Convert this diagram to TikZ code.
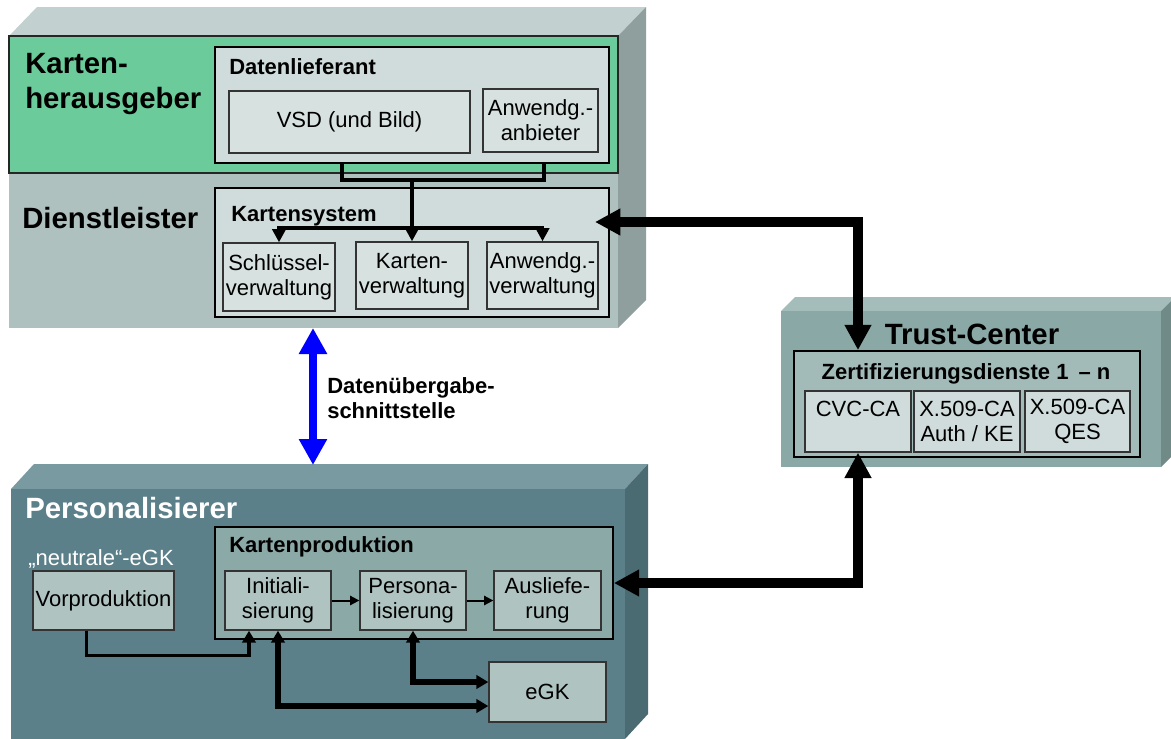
\documentclass[tikz,border=0pt]{standalone}
\usepackage{fontspec}
\setmainfont{Liberation Sans}
\usetikzlibrary{arrows.meta,calc}
\definecolor{topfront}{HTML}{AFC1BF}
\definecolor{toptop}{HTML}{C2D1CF}
\definecolor{topside}{HTML}{8F9F9D}
\definecolor{kgreen}{HTML}{6CCB9B}
\definecolor{lightbox}{HTML}{D0DCDB}
\definecolor{lightsub}{HTML}{D7E1E0}
\definecolor{tcfront}{HTML}{8AA8A6}
\definecolor{tctop}{HTML}{A4BCBA}
\definecolor{tcside}{HTML}{708A88}
\definecolor{tcin}{HTML}{A2BBB9}
\definecolor{pfront}{HTML}{5B808A}
\definecolor{ptop}{HTML}{7A9AA2}
\definecolor{pside}{HTML}{4A6B72}
\definecolor{kpfill}{HTML}{8BA9A7}
\definecolor{kpsub}{HTML}{AFC3C1}
\newcommand\fsnorm{\fontsize{16.5}{18.75}\selectfont}
\newcommand\fsbig{\fontsize{22}{26}\selectfont}
\begin{document}
\begin{tikzpicture}[x=0.75pt,y=-0.75pt,
  rect/.style args={#1/#2/#3/#4}{at={({(#1+#3)/2},{(#2+#4)/2})},
     minimum width={(#3-#1)*0.75pt}, minimum height={(#4-#2)*0.75pt}},
  box/.style={draw=black, line width=1.3pt, inner sep=0pt},
  subbox/.style={draw=black!80, line width=1pt, inner sep=0pt, align=center, font=\fsnorm},
  head/.style={anchor=base west, font=\bfseries\fsnorm, inner sep=0pt},
  bighead/.style={anchor=base west, font=\bfseries\fsbig, inner sep=0pt, align=left},
  tconn/.style={line width=2.6pt, -{Triangle[length=10pt,width=10pt]}},
  tconnplain/.style={line width=2.6pt},
  small/.style={line width=1.5pt, -{Triangle[length=7pt,width=7pt]}},
  medium/.style={line width=4.5pt, {Triangle[length=9pt,width=10pt]}-{Triangle[length=9pt,width=10pt]}},
  big/.style={line width=7.5pt, {Triangle[length=19pt,width=19pt]}-{Triangle[length=19pt,width=19pt]}},
  bluearrow/.style={line width=6pt, blue, {Triangle[length=19.5pt,width=20pt]}-{Triangle[length=19.5pt,width=20pt]}}
]
\useasboundingbox (0,0) rectangle (1171,739);
\clip (0,0) rectangle (1171,739);

% ---------- top block (Dienstleister) ----------
\fill[toptop] (9,36) -- (37,7) -- (646,7) -- (618,36) -- cycle;
\fill[topside] (618,36) -- (646,7) -- (646,300) -- (618,328) -- cycle;
\fill[topfront] (9,36) rectangle (618,328);
\draw[fill=kgreen, draw=black!85, line width=1.3pt] (9,36) rectangle (618,173);

\node[bighead] (kh) at (25,108) {Karten-\\herausgeber};
\node[bighead] (dlst) at (22,228) {Dienstleister};

\node[box, fill=lightbox, rect=215/47/609/163] (dl) {};
\node[head] (dlt) at (229,74) {Datenlieferant};
\node[subbox, fill=lightsub, rect=229/91/470/153] (vsd) {VSD (und Bild)};
\node[subbox, fill=lightsub, rect=483/89/598/152] (aa) {Anwendg.-\\anbieter};

\node[box, fill=lightbox, rect=215/188/609/317] (ks) {};
\node[head] (kst) at (231,221) {Kartensystem};
\node[subbox, fill=lightsub, rect=223/243/335/311] (sv) {Schlüssel-\\verwaltung};
\node[subbox, fill=lightsub, rect=356/242/468/309] (kv) {Karten-\\verwaltung};
\node[subbox, fill=lightsub, rect=487/242/598/309] (av) {Anwendg.-\\verwaltung};

\coordinate (br) at (kv.north |- 0,180);
\coordinate (bj) at (kv.north |- 0,228);
\draw[tconnplain] ($(dl.south west)+(128,0)$) |- (br) -| ($(dl.south west)+(330,0)$);
\draw[tconn] (br) -- (kv.north);
\draw[tconn] (bj) -| (sv.north);
\draw[tconn] (bj) -| (av.north);

% ---------- Trust-Center ----------
\fill[tctop] (781,311) -- (795,297) -- (1175,297) -- (1161,311) -- cycle;
\fill[tcside] (1161,311) -- (1175,297) -- (1175,453) -- (1161,467) -- cycle;
\fill[tcfront] (781,311) rectangle (1161,467);
\node[anchor=base, font=\bfseries\fsbig, inner sep=0pt] (tct) at (972,344) {Trust-Center};
\node[box, fill=tcin, rect=794/351/1140/457] (zd) {};
\node[anchor=base, font=\bfseries\fsnorm, inner sep=0pt] (zdt) at (966,379) {Zertifizierungsdienste 1\hspace{3pt} – n};
\node[subbox, fill=lightbox, rect=805/391/911/452] (cvc) {};
\node[anchor=base, font=\fsnorm, inner sep=0pt] (cvct) at (858,416) {CVC-CA};
\node[subbox, fill=lightbox, rect=914/391/1020/452] (xa) {X.509-CA\\Auth / KE};
\node[subbox, fill=lightbox, rect=1025/391/1130/452] (xq) {X.509-CA\\QES};

% ---------- Personalisierer ----------
\fill[ptop] (11,489) -- (34,464) -- (648,464) -- (625,489) -- cycle;
\fill[pside] (625,489) -- (648,464) -- (648,714) -- (625,739) -- cycle;
\fill[pfront] (11,489) rectangle (625,745);
\node[bighead, text=white] (pt) at (25,518) {Personalisierer};

\node[box, fill=kpfill, rect=215/527/613/639] (kp) {};
\node[head] (kpt) at (229,552) {Kartenproduktion};
\node[subbox, fill=kpsub, rect=225/571/331/630] (init) {Initiali-\\sierung};
\node[subbox, fill=kpsub, rect=360/571/466/630] (perso) {Persona-\\lisierung};
\node[subbox, fill=kpsub, rect=494/571/601/630] (ausl) {Ausliefe-\\rung};

\node[anchor=base west, font=\fsnorm, inner sep=0pt, text=white] (neu) at (28,565) {„neutrale“-eGK};
\node[subbox, fill=kpsub, rect=33/571/174/630] (vp) {Vorproduktion};
\node[subbox, fill=kpsub, rect=489/662/606/722] (egk) {eGK};

\draw[small] (init.east) -- (perso.west);
\draw[small] (perso.east) -- (ausl.west);
\draw[line width=2.6pt, -{Triangle[length=9pt,width=10pt]}] ($(vp.south)+(-17,0)$) -- ++(0,25) -| ($(init.south)+(-29,0)$);
\draw[medium] (init.south) |- ($(egk.west)+(0,14)$);
\draw[medium] (perso.south) |- ($(egk.west)+(0,-10)$);

% ---------- connectors between blocks ----------
\coordinate (kin) at (595,222);
\draw[big] (kin) -| (cvc.north |- zd.north);
\draw[big] (kp.east) -| (cvc.south);

\coordinate (bt) at (313,328);
\coordinate (bb) at (313,465);
\draw[bluearrow] (bt) -- (bb);
\node[anchor=base west, font=\bfseries\fsnorm, inner sep=0pt, align=left] (dut) at (327,418) {Datenübergabe-\\schnittstelle};
\end{tikzpicture}
\end{document}
